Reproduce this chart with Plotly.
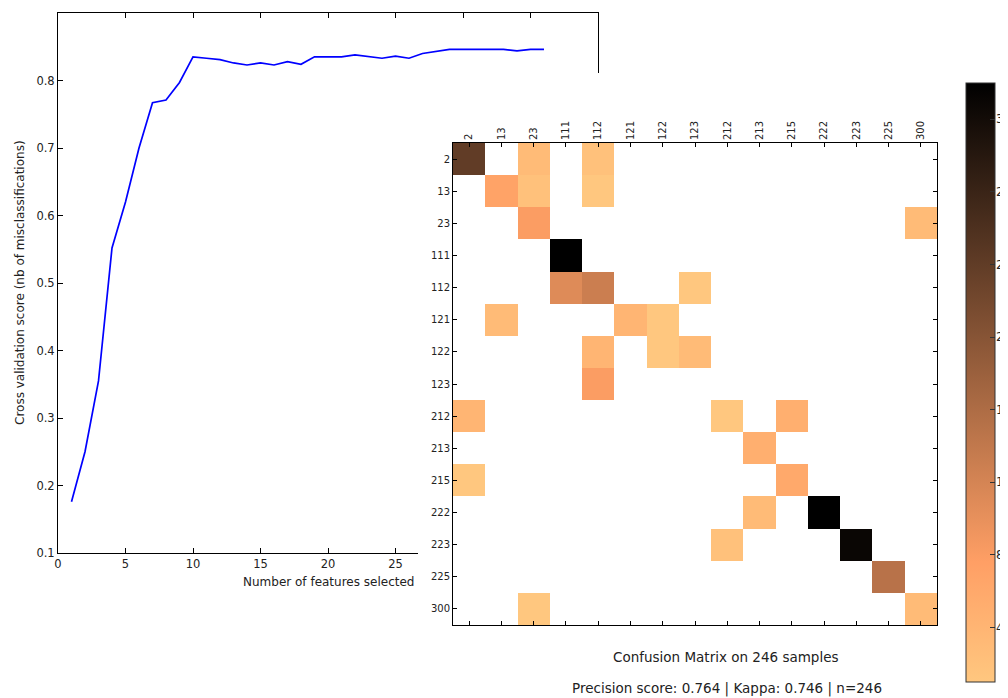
import plotly.graph_objects as go

# ---------------- data ----------------
n_features = list(range(1, 37))
cv_scores = [0.176, 0.250, 0.355, 0.552, 0.620, 0.700, 0.767, 0.771, 0.797, 0.835,
             0.833, 0.831, 0.826, 0.823, 0.826, 0.823, 0.828, 0.824, 0.835, 0.835,
             0.835, 0.838, 0.835, 0.833, 0.836, 0.833, 0.840, 0.843, 0.846, 0.846,
             0.846, 0.846, 0.846, 0.844, 0.846, 0.846]
line_xticks = [0, 5, 10, 15, 20, 25, 30, 35, 40]
line_yticks = [0.1, 0.2, 0.3, 0.4, 0.5, 0.6, 0.7, 0.8, 0.9]

class_labels = ["2", "13", "23", "111", "112", "121", "122", "123",
                "212", "213", "215", "222", "223", "225", "300"]
# rows = true class, columns = predicted class (0 = empty cell)
conf_matrix = [
    [24, 0, 3, 0, 2, 0, 0, 0, 0, 0, 0, 0, 0, 0, 0],
    [0, 7, 2, 0, 1, 0, 0, 0, 0, 0, 0, 0, 0, 0, 0],
    [0, 0, 8, 0, 0, 0, 0, 0, 0, 0, 0, 0, 0, 0, 3],
    [0, 0, 0, 34, 0, 0, 0, 0, 0, 0, 0, 0, 0, 0, 0],
    [0, 0, 0, 11, 13, 0, 0, 1, 0, 0, 0, 0, 0, 0, 0],
    [0, 3, 0, 0, 0, 4, 1, 0, 0, 0, 0, 0, 0, 0, 0],
    [0, 0, 0, 0, 4, 0, 1, 3, 0, 0, 0, 0, 0, 0, 0],
    [0, 0, 0, 0, 8, 0, 0, 0, 0, 0, 0, 0, 0, 0, 0],
    [4, 0, 0, 0, 0, 0, 0, 0, 1, 0, 5, 0, 0, 0, 0],
    [0, 0, 0, 0, 0, 0, 0, 0, 0, 5, 0, 0, 0, 0, 0],
    [1, 0, 0, 0, 0, 0, 0, 0, 0, 0, 6, 0, 0, 0, 0],
    [0, 0, 0, 0, 0, 0, 0, 0, 0, 3, 0, 34, 0, 0, 0],
    [0, 0, 0, 0, 0, 0, 0, 0, 2, 0, 0, 0, 33, 0, 0],
    [0, 0, 0, 0, 0, 0, 0, 0, 0, 0, 0, 0, 0, 15, 0],
    [0, 0, 1, 0, 0, 0, 0, 0, 0, 0, 0, 0, 0, 0, 3],
]
cb_ticks = [4, 8, 12, 16, 20, 24, 28, 32]
z_min, z_max = 1, 34

line_xlabel = "Number of features selected"
line_ylabel = "Cross validation score (nb of misclassifications)"
cm_title = "Confusion Matrix on 246 samples"
cm_subtitle = "Precision score: 0.764 | Kappa: 0.746 | n=246"

# ---------------- styling ----------------
# the page body has an 8px margin, so the figure sits at (8, 8) in the window
OFF = 8
W, H = 1008 - OFF, 698 - OFF
FONT = "DejaVu Sans"
TXT = "#222222"


def fx(p):
    return (p - OFF) / W


def fy(p):
    return 1 - (p - OFF) / H


# colorbar geometry (window pixels)
CB_LEFT, CB_TOP, CB_BOTTOM, CB_THICK = 966, 83, 682, 29


def cb_y(v):
    # paper y of value v along the colorbar (same linear scale as the bar)
    frac = (v - z_min) / (z_max - z_min)
    return fy(CB_BOTTOM) + frac * (fy(CB_TOP) - fy(CB_BOTTOM))


# matplotlib 'copper_r' colormap
copper_r = [[0.0, "rgb(255,199,127)"], [0.2, "rgb(255,159,101)"], [1.0, "rgb(0,0,0)"]]

fig = go.Figure()

# line chart
fig.add_trace(go.Scatter(
    x=n_features, y=cv_scores, mode="lines",
    line=dict(color="#0000ff", width=1.7),
    xaxis="x", yaxis="y", showlegend=False, hoverinfo="x+y"))

# white background of the second (confusion matrix) panel, covering the first
fig.add_trace(go.Scatter(
    x=[0, 1, 1, 0, 0], y=[0, 0, 1, 1, 0], mode="lines", fill="toself",
    fillcolor="white", line=dict(width=0, color="white"),
    xaxis="x2", yaxis="y2", showlegend=False, hoverinfo="skip"))

# confusion matrix
z = [[v if v > 0 else None for v in row] for row in conf_matrix]
fig.add_trace(go.Heatmap(
    z=z, x=list(range(len(class_labels))), y=list(range(len(class_labels))),
    xaxis="x3", yaxis="y3", colorscale=copper_r, zmin=z_min, zmax=z_max,
    hoverongaps=False,
    colorbar=dict(
        x=fx(CB_LEFT), xanchor="left", y=fy((CB_TOP + CB_BOTTOM) / 2), yanchor="middle",
        len=(CB_BOTTOM - CB_TOP) / H, lenmode="fraction", thickness=CB_THICK,
        thicknessmode="pixels", xpad=0, ypad=0, outlinewidth=1, outlinecolor="#333333",
        ticks="inside", ticklen=5, tickcolor="#333333", tickwidth=1,
        tickvals=cb_ticks, showticklabels=False,
    )))

axis_common = dict(ticks="inside", showline=True, mirror="allticks", linecolor="black",
                   linewidth=1, tickcolor="black", tickwidth=1, showgrid=False,
                   zeroline=False)

annotations = [
    dict(text=line_xlabel, x=fx(328), y=fy(582), xref="paper", yref="paper",
         showarrow=False, xanchor="center", yanchor="middle",
         font=dict(size=12, family=FONT, color=TXT)),
    dict(text=line_ylabel, x=fx(20), y=fy(283), xref="paper", yref="paper",
         showarrow=False, xanchor="center", yanchor="middle", textangle=-90,
         font=dict(size=12, family=FONT, color=TXT)),
    dict(text=cm_title, x=fx(725.5), y=fy(657), xref="paper", yref="paper",
         showarrow=False, xanchor="center", yanchor="middle",
         font=dict(size=13.5, family=FONT, color=TXT)),
    dict(text=cm_subtitle, x=fx(727), y=fy(688), xref="paper", yref="paper",
         showarrow=False, xanchor="center", yanchor="middle",
         font=dict(size=13.5, family=FONT, color=TXT)),
]
# colorbar tick labels (cut by the right edge, as in the original)
for v in cb_ticks:
    annotations.append(dict(text=str(v), x=fx(CB_LEFT + CB_THICK), y=cb_y(v),
                            xref="paper", yref="paper", showarrow=False,
                            xanchor="left", yanchor="middle", borderpad=0,
                            font=dict(size=12, family=FONT, color=TXT)))

fig.update_layout(
    width=W, height=H, margin=dict(l=0, r=0, t=0, b=0, autoexpand=False),
    paper_bgcolor="white", plot_bgcolor="white",
    font=dict(family=FONT, color=TXT),
    xaxis=dict(domain=[fx(58), fx(598)], range=[0, 40], tickvals=line_xticks,
               ticklen=5, anchor="y", tickfont=dict(size=11.5), **axis_common),
    yaxis=dict(domain=[fy(553), fy(13)], range=[0.1, 0.9], tickvals=line_yticks,
               ticktext=[f"{v:.1f}" for v in line_yticks], ticklen=5, anchor="x",
               tickfont=dict(size=11.5), **axis_common),
    xaxis2=dict(domain=[fx(418), 1.0], range=[0, 1], visible=False, anchor="y2",
                fixedrange=True),
    yaxis2=dict(domain=[0.0, fy(73)], range=[0, 1], visible=False, anchor="x2",
                fixedrange=True),
    xaxis3=dict(domain=[fx(453), fx(937)], range=[-0.5, len(class_labels) - 0.5],
                side="top", tickvals=list(range(len(class_labels))), ticktext=class_labels,
                tickangle=-90, ticklen=4, anchor="y3", tickfont=dict(size=10),
                **axis_common),
    yaxis3=dict(domain=[fy(625), fy(143)], range=[len(class_labels) - 0.5, -0.5],
                tickvals=list(range(len(class_labels))), ticktext=class_labels,
                ticklen=4, anchor="x3", tickfont=dict(size=10), **axis_common),
    annotations=annotations,
)

fig.write_html("out.html")
